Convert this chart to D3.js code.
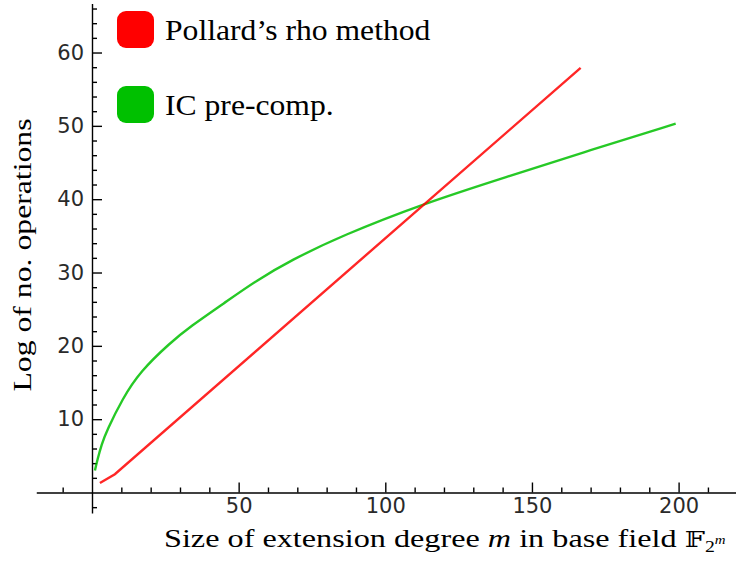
<!DOCTYPE html>
<html lang="en">
<head>
    <meta charset="UTF-8">
    <title>Pollard's rho vs IC pre-comp.</title>
    <script src="https://d3js.org/d3.v7.min.js"></script>
    <style>
        body {
            margin: 0;
            background-color: #ffffff;
        }

        .tick text {
            font-family: "DejaVu Sans", sans-serif;
            font-size: 21px;
            fill: #2a2a2a;
        }

        .serif {
            font-family: "Liberation Serif", "Times New Roman", serif;
            fill: #000000;
        }
    </style>
</head>
<body>
    <svg id="chart" width="736" height="561"></svg>

    <script>
        // Pollard's rho method (red)
        const rhoM   = [2.7, 7.8, 166.6];
        const rhoLog = [1.3, 2.5, 57.9];

        // IC pre-comp. (green)
        const icM   = [1, 1.8, 3.3, 5, 10.4, 16.4, 26.6, 33.4, 45, 56, 68, 85, 113, 141, 170, 199];
        const icLog = [3.0, 4.4, 6.6, 8.4, 12.8, 16.5, 20.4, 22.6, 25.8, 28.9, 31.7, 35.0, 39.4, 43.0, 46.7, 50.3];

        // axis ticks
        const xMajor = [50, 100, 150, 200];
        const xMinor = [-10, 10, 20, 30, 40, 60, 70, 80, 90, 110, 120, 130, 140, 160, 170, 180, 190, 210];
        const yMajor = [10, 20, 30, 40, 50, 60];
        const yMinor = [-2, 2, 4, 6, 8, 12, 14, 16, 18, 22, 24, 26, 28, 32, 34, 36, 38, 42, 44, 46, 48, 52, 54, 56, 58, 62, 64, 66];

        const legendNames = ["Pollard\u2019s rho method", "IC pre-comp."];
        const legendColors = ["#ff0000", "#00c000"];

        const svg = d3.select("#chart");

        const x = d3.scaleLinear().domain([-19, 220]).range([92 - 19 * 2.933, 92 + 220 * 2.933]);
        const y = d3.scaleLinear().domain([-2.8, 66.7]).range([492.5 + 2.8 * 7.333, 492.5 - 66.7 * 7.333]);

        // x axis through y = 0, ticks pointing up
        const gx = svg.append("g").attr("transform", `translate(0,${y(0)})`);
        gx.call(d3.axisBottom(x).tickValues(xMajor).tickSizeInner(-10).tickSizeOuter(0).tickPadding(6));
        gx.append("g").call(d3.axisBottom(x).tickValues(xMinor).tickSizeInner(-5).tickSizeOuter(0).tickFormat(""))
            .select(".domain").remove();

        // y axis through x = 0, ticks pointing right
        const gy = svg.append("g").attr("transform", `translate(${x(0)},0)`);
        gy.call(d3.axisLeft(y).tickValues(yMajor).tickSizeInner(-10).tickSizeOuter(0).tickPadding(8));
        gy.append("g").call(d3.axisLeft(y).tickValues(yMinor).tickSizeInner(-5).tickSizeOuter(0).tickFormat(""))
            .select(".domain").remove();

        svg.selectAll(".domain, .tick line").attr("stroke", "#000").attr("stroke-width", 1.4);

        // curves
        const smooth = d3.line().x(d => x(d[0])).y(d => y(d[1])).curve(d3.curveBasis);
        const straight = d3.line().x(d => x(d[0])).y(d => y(d[1]));

        svg.append("path")
            .datum(icM.map((m, i) => [m, icLog[i]]))
            .attr("d", smooth)
            .attr("fill", "none")
            .attr("stroke", legendColors[1])
            .attr("stroke-width", 2.4)
            .attr("opacity", 0.85);

        svg.append("path")
            .datum(rhoM.map((m, i) => [m, rhoLog[i]]))
            .attr("d", straight)
            .attr("fill", "none")
            .attr("stroke", legendColors[0])
            .attr("stroke-width", 2.4)
            .attr("opacity", 0.85);

        // legend
        const legend = svg.append("g");
        legendNames.forEach((name, i) => {
            legend.append("rect")
                .attr("x", 117).attr("y", 11 + i * 75)
                .attr("width", 37).attr("height", 37)
                .attr("rx", 9)
                .attr("fill", legendColors[i]);
            legend.append("text")
                .attr("class", "serif")
                .attr("transform", `translate(165,${40 + i * 75}) scale(1.055,1)`)
                .attr("font-size", 30)
                .text(name);
        });

        // axis labels (stretched a little to get the wide look of the original font)
        const xl = svg.append("text")
            .attr("class", "serif")
            .attr("transform", "translate(164,547) scale(1.24,1)")
            .attr("font-size", 26);
        xl.append("tspan").text("Size of extension degree ");
        xl.append("tspan").attr("font-style", "italic").text("m");
        xl.append("tspan").text(" in base field ");
        xl.append("tspan").attr("font-family", "DejaVu Serif").attr("font-size", 23).text("\uD835\uDD3D");
        xl.append("tspan").attr("font-size", 16).attr("dy", 5).text("2");
        xl.append("tspan").attr("font-size", 12).attr("font-style", "italic").attr("dy", -8).text("m");

        svg.append("text")
            .attr("class", "serif")
            .attr("transform", "translate(31,255) rotate(-90) scale(1.22,1)")
            .attr("text-anchor", "middle")
            .attr("font-size", 26)
            .text("Log of no. operations");
    </script>
</body>
</html>
